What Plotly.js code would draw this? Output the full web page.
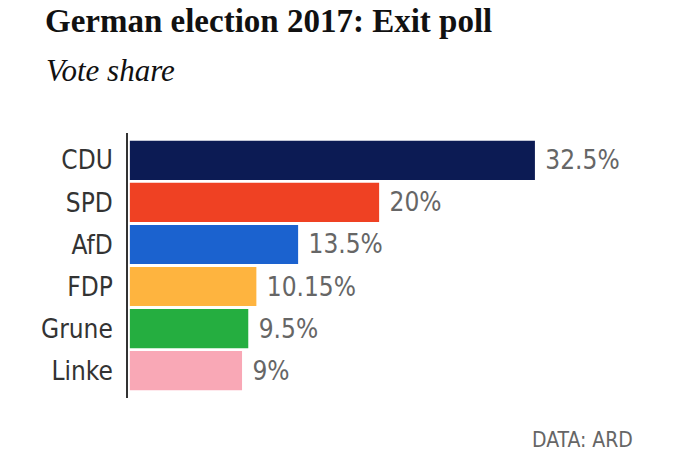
<!DOCTYPE html>
<html>
<head>
<meta charset="utf-8">
<script src="https://cdn.plot.ly/plotly-3.0.1.min.js"></script>
<style>
  html, body { margin: 0; padding: 0; background: #ffffff; }
  #chart { width: 690px; height: 461px; }
</style>
</head>
<body>
<div id="chart"></div>
<script>
var parties = ['CDU', 'SPD', 'AfD', 'FDP', 'Grune', 'Linke'];
var shares = [32.5, 20, 13.5, 10.15, 9.5, 9];
var partyColors = ['#0c1b54', '#ef4123', '#1b62cf', '#feb43f', '#25ae40', '#f9a8b6'];

var condensed = 'DejaVu Sans Condensed, Liberation Sans Narrow, Roboto, sans-serif';
var serif = 'Liberation Serif, DejaVu Serif, serif';

var trace = {
  type: 'bar',
  orientation: 'h',
  y: parties,
  x: shares,
  marker: { color: partyColors, line: { width: 0 } },
  text: shares.map(function (v) { return '\u00a0' + v + '%'; }),
  textposition: 'outside',
  textfont: { family: condensed, size: 26, color: '#666666' },
  constraintext: 'none',
  cliponaxis: false,
  hoverinfo: 'skip'
};

var layout = {
  width: 690,
  height: 461,
  margin: { l: 128, r: 13, t: 133, b: 63, pad: 0 },
  paper_bgcolor: '#ffffff',
  plot_bgcolor: '#ffffff',
  showlegend: false,
  bargap: 0.07,
  title: {
    text: '<b>German election 2017: Exit poll</b>',
    font: { family: serif, size: 33, color: '#111111' },
    xref: 'container',
    yref: 'container',
    x: 45 / 690,
    xanchor: 'left',
    y: 1 - 9 / 461,
    yanchor: 'top'
  },
  annotations: [
    {
      text: '<i>Vote share</i>',
      font: { family: serif, size: 31, color: '#111111' },
      xref: 'paper', yref: 'paper',
      x: (44 - 128) / 549, xanchor: 'left',
      y: 1 + (133 - 51) / 265, yanchor: 'top',
      showarrow: false
    },
    {
      text: 'DATA: ARD',
      font: { family: condensed, size: 21, color: '#666666' },
      xref: 'paper', yref: 'paper',
      x: (635 - 128) / 549, xanchor: 'right',
      y: -(426 - 398) / 265, yanchor: 'top',
      showarrow: false
    }
  ],
  xaxis: {
    range: [-0.15, 43.9],
    visible: false,
    fixedrange: true
  },
  yaxis: {
    type: 'category',
    range: [5.65, -0.65],
    showgrid: false,
    zeroline: false,
    showline: true,
    linecolor: '#333333',
    linewidth: 2,
    ticks: '',
    ticklabelstandoff: 8,
    tickfont: { family: condensed, size: 26, color: '#333333' },
    fixedrange: true
  }
};

Plotly.newPlot('chart', [trace], layout, { displayModeBar: false, staticPlot: true });
</script>
</body>
</html>
